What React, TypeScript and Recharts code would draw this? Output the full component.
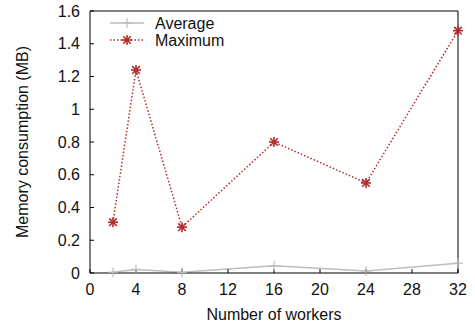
import { ComposedChart, Line, XAxis, YAxis, Legend, Label } from 'recharts'

const workers = [2, 4, 8, 16, 24, 32]
const averageMB = [0.005, 0.022, 0.004, 0.044, 0.012, 0.06]
const maximumMB = [0.31, 1.24, 0.28, 0.8, 0.55, 1.48]
const xTicks = [0, 4, 8, 12, 16, 20, 24, 28, 32]
const yTicks = [0, 0.2, 0.4, 0.6, 0.8, 1, 1.2, 1.4, 1.6]

const data = workers.map((w, i) => ({ workers: w, average: averageMB[i], maximum: maximumMB[i] }))

const FONT = '"Liberation Sans", Arial, Helvetica, sans-serif'
const GRAY = '#bdbdbd'
const RED = '#b22b2b'
const tickStyle = { fontFamily: FONT, fontSize: 16, fill: '#111' }

const fmtY = (v: number) => String(Math.round(v * 10) / 10)

function PlusMark({ cx, cy, color }: { cx?: number; cy?: number; color: string }) {
  if (cx == null || cy == null) return null
  const r = 5
  return (
    <g stroke={color} strokeWidth={1.2}>
      <line x1={cx - r} y1={cy} x2={cx + r} y2={cy} />
      <line x1={cx} y1={cy - r} x2={cx} y2={cy + r} />
    </g>
  )
}

function StarMark({ cx, cy, color }: { cx?: number; cy?: number; color: string }) {
  if (cx == null || cy == null) return null
  const r = 5
  const d = 3.8
  return (
    <g stroke={color} strokeWidth={1.6}>
      <line x1={cx - r} y1={cy} x2={cx + r} y2={cy} />
      <line x1={cx} y1={cy - r} x2={cx} y2={cy + r} />
      <line x1={cx - d} y1={cy - d} x2={cx + d} y2={cy + d} />
      <line x1={cx - d} y1={cy + d} x2={cx + d} y2={cy - d} />
    </g>
  )
}

function KeyBox() {
  return (
    <svg width={280} height={52} style={{ display: 'block' }}>
      <line x1={110} y1={23} x2={144} y2={23} stroke={GRAY} strokeWidth={1.5} />
      <PlusMark cx={127} cy={23} color={GRAY} />
      <text x={155} y={23} dy="0.35em" style={tickStyle}>Average</text>
      <line x1={110} y1={40} x2={144} y2={40} stroke={RED} strokeWidth={1.5} strokeDasharray="1.5 2" />
      <StarMark cx={127} cy={40} color={RED} />
      <text x={155} y={40} dy="0.35em" style={tickStyle}>Maximum</text>
    </svg>
  )
}

export default function App() {
  return (
    <div style={{ position: 'absolute', left: 0, top: 0, background: '#fff' }}>
      <ComposedChart width={475} height={326} data={data} margin={{ top: 10, right: 16, left: 0, bottom: 0 }}>
        <XAxis
          dataKey="workers"
          type="number"
          domain={[0, 32]}
          ticks={xTicks}
          height={53}
          stroke="#000"
          tickSize={-4}
          tickMargin={15}
          tick={tickStyle}
          interval={0}
        >
          <Label value="Number of workers" position="insideBottom" offset={6} style={tickStyle} />
        </XAxis>
        <XAxis
          xAxisId="top"
          orientation="top"
          dataKey="workers"
          type="number"
          domain={[0, 32]}
          ticks={xTicks}
          height={1}
          stroke="#000"
          tickSize={-4}
          tick={false}
          interval={0}
        />
        <YAxis
          type="number"
          domain={[0, 1.6]}
          ticks={yTicks}
          width={90}
          stroke="#000"
          tickSize={-4}
          tickMargin={14}
          tick={tickStyle}
          tickFormatter={fmtY}
          interval={0}
        >
          <Label value="Memory consumption (MB)" angle={-90} position="center" dx={-23} style={tickStyle} />
        </YAxis>
        <YAxis
          yAxisId="right"
          orientation="right"
          type="number"
          domain={[0, 1.6]}
          ticks={yTicks}
          width={1}
          stroke="#000"
          tickSize={-4}
          tick={false}
          interval={0}
        />
        <Legend
          layout="horizontal"
          verticalAlign="middle"
          align="center"
          wrapperStyle={{ left: 0, top: 0, width: 280, height: 52 }}
          content={() => <KeyBox />}
        />
        <Line
          dataKey="average"
          name="Average"
          stroke={GRAY}
          strokeWidth={1.5}
          dot={(p: any) => <PlusMark key={p.index} cx={p.cx} cy={p.cy} color={GRAY} />}
          activeDot={false}
          isAnimationActive={false}
        />
        <Line
          dataKey="maximum"
          name="Maximum"
          stroke={RED}
          strokeWidth={1.5}
          strokeDasharray="1.5 2"
          dot={(p: any) => <StarMark key={p.index} cx={p.cx} cy={p.cy} color={RED} />}
          activeDot={false}
          isAnimationActive={false}
        />
      </ComposedChart>
    </div>
  )
}
